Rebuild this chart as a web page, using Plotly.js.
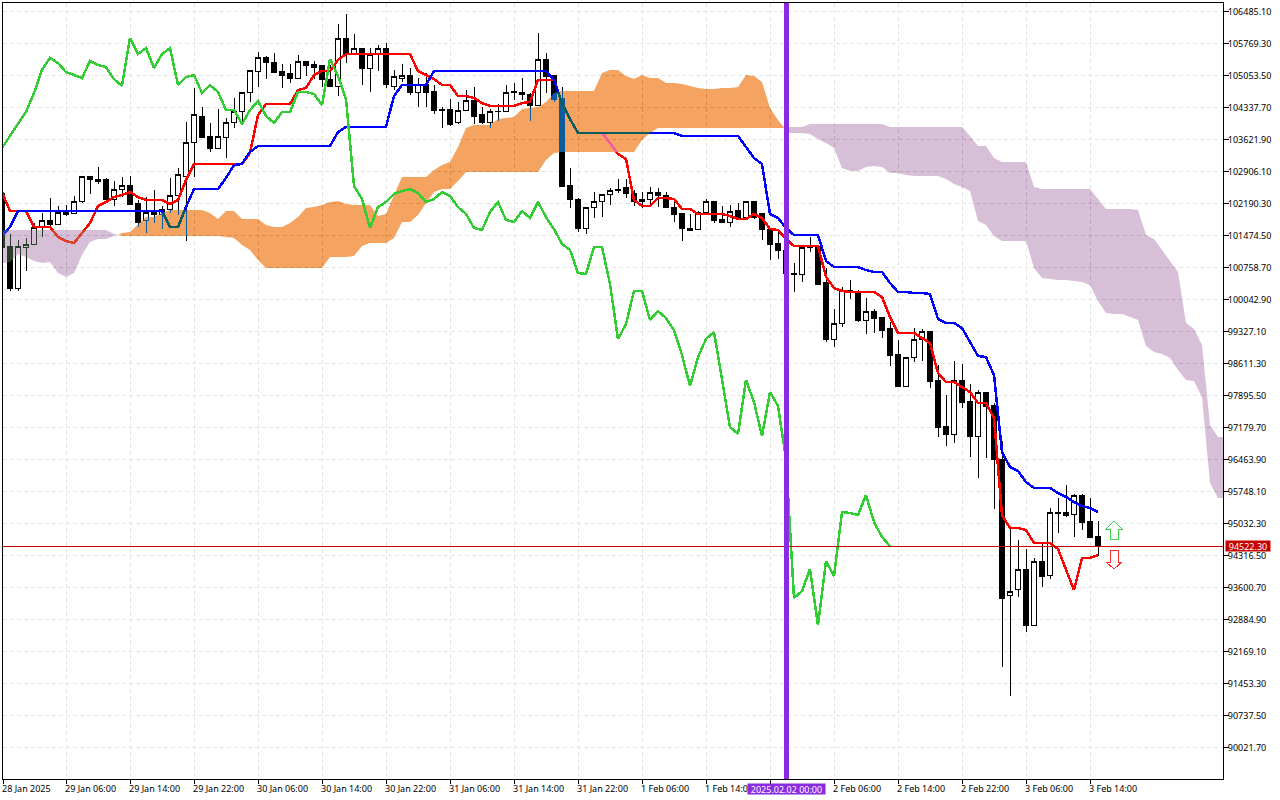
<!DOCTYPE html>
<html><head><meta charset="utf-8">
<script src="https://cdn.plot.ly/plotly-3.0.1.min.js"></script>
<style>html,body{margin:0;padding:0;background:#fff}#chart{width:1280px;height:800px}
.js-line{shape-rendering:crispEdges}
.boxlayer path{shape-rendering:crispEdges}
.shapelayer path{shape-rendering:crispEdges}</style>
</head><body><div id="chart"></div>
<script>
const opens=[102421,101235,100274,101213,101280,101660,101817,101727,101996,101973,
102220,102779,102734,102712,102286,102510,102600,102197,101795,101996,
101929,102063,102376,102779,103561,104143,103696,103427,103673,103987,
104233,104658,105150,105441,105351,105150,105083,104993,105373,105306,
105262,104971,104814,105888,105530,105664,105217,105530,105664,104814,
104993,105060,104658,104837,104702,104300,104300,103987,104277,104479,
104166,103987,104255,104233,104702,104680,104635,104389,105418,105060,
104546,102600,102286,101638,102107,102220,102398,102466,102533,102421,
102220,102286,102443,102376,102107,101973,101638,101615,101996,102242,
101839,101772,102040,101862,102220,101973,101615,101302,101146,100631,
100609,101235,101235,100430,99155,99491,100206,100184,99580,99781,
99647,99379,98819,98103,98752,99155,99312,98238,97209,97030,
98238,97768,96985,97969,97678,96471,93428,93563,94010,92757,
94189,93876,95285,95285,95240,95665,95084,94748];
const highs=[102488,101504,101369,101414,101750,101973,102309,102130,102152,102354,
102801,102779,103002,102756,102689,102779,102801,102264,102331,102488,
102130,102756,102980,104009,104770,104344,103987,104300,104098,104546,
104658,105172,105575,105485,105552,105306,105306,105508,105373,105373,
105262,105284,106201,106425,105977,105664,105664,105731,105776,105172,
105306,105217,104993,105105,104837,104344,104523,104456,104725,104792,
104344,104300,104412,104837,104881,104993,104658,106000,105552,105060,
104792,102980,102309,102107,102443,102398,102533,102734,102734,102488,
102443,102555,102533,102443,102264,101973,101951,102018,102286,102242,
102130,102152,102197,102220,102242,101973,101615,101571,101146,100855,
101213,101436,101235,100743,99826,100318,100475,100251,100072,99826,
99647,99535,99132,98752,99401,99379,99312,98573,97902,98662,
98595,98148,98014,97969,97723,96873,94927,94659,94457,94256,
94592,95374,95598,95889,95688,95688,95598,95084];
const lows=[101146,100229,100229,100676,101258,101436,101660,101705,101906,101951,
102197,102398,102622,102264,102130,102331,102152,101660,101526,101750,
101615,101973,101929,101347,102779,103673,103338,103405,103204,103875,
103964,104456,104792,104971,105105,104770,104881,104993,105038,104971,
104792,104792,104591,105329,105530,104837,104680,105150,104770,104725,
104904,104613,104344,104344,104188,103875,103920,103964,104277,103964,
103964,103875,104031,104233,104501,104501,104031,104389,104658,104456,
102555,102085,101548,101504,101862,101884,102152,102421,102309,102130,
102085,102174,102107,102085,101772,101347,101571,101615,101973,101750,
101750,101660,101839,101839,101839,101369,100922,100944,100631,100206,
100430,101101,100363,99087,98976,99423,100049,99535,99267,99289,
99177,98551,98081,98103,98640,98662,98059,96963,96761,96828,
97611,96515,96045,96493,95352,91818,91169,93383,92601,92735,
93607,93786,94815,95173,94726,94882,94726,94301];
const closes=[101213,100274,101235,101258,101660,101817,101727,101996,101951,102220,
102779,102734,102689,102286,102510,102600,102174,101772,101996,101929,
102063,102376,102824,103561,104166,103673,103427,103696,103987,104233,
104658,105172,105441,105329,105127,105060,104993,105373,105284,105239,
104971,104814,105888,105530,105664,105217,105530,105664,104837,105016,
105060,104658,104837,104680,104277,104277,103964,104277,104479,104143,
103987,104233,104233,104680,104680,104635,104389,105418,105038,104523,
102577,102286,101638,102107,102220,102398,102466,102510,102421,102220,
102286,102443,102354,102107,101951,101638,101593,101996,102220,101817,
101772,102018,101862,102220,101884,101615,101280,101146,100631,100609,
101213,101213,100385,99155,99491,100229,100229,99580,99781,99625,
99356,98797,98103,98752,99155,99312,98215,97186,97030,98238,
97745,96985,97969,97656,96471,93361,93518,94010,92757,94189,
93853,95285,95263,95218,95665,95061,94726,94522.3];
const tenkan=[102443,102018,102018,102018,101660,101660,101660,101436,101347,101302,
101526,101750,102130,102220,102331,102376,102443,102331,102264,102264,
102264,102174,102264,102712,103070,103070,103070,103070,103070,103070,
103070,103316,104166,104412,104412,104412,104412,104725,104770,105060,
105150,105150,105396,105530,105530,105530,105530,105530,105530,105530,
105530,105530,105150,105060,104971,104837,104837,104591,104591,104546,
104434,104367,104367,104367,104367,104434,104456,104948,104948,104948,
104434,104076,103763,103763,103763,103763,103539,103293,103181,102264,
102130,102130,102309,102309,102286,102063,102063,101951,101951,101951,
101951,101906,101839,101839,101951,101862,101615,101593,101392,101235,
101235,101235,101235,100542,100296,100229,100206,100206,100206,100206,
100094,99647,99289,99289,99289,99177,99065,98394,98193,98193,
98081,97969,97723,97723,97388,95218,94927,94927,94882,94592,
94592,94592,94457,93988,93540,94256,94256,94323];
const kijun=[101459,101660,102018,102018,102018,102018,102018,102018,102018,102018,
102018,102018,102018,102018,102018,102018,102018,102018,102018,102018,
102018,101660,101660,102107,102510,102510,102510,102510,102756,103047,
103070,103338,103472,103472,103472,103472,103472,103472,103472,103472,
103472,103472,103785,103897,103897,103897,103897,103897,103897,104591,
104837,104837,104837,104837,105150,105150,105150,105150,105150,105150,
105150,105150,105150,105150,105150,105150,105150,105150,105150,104948,
104434,104076,103763,103763,103763,103763,103763,103763,103763,103763,
103763,103763,103763,103763,103763,103696,103696,103696,103696,103696,
103696,103696,103696,103450,103204,103070,101951,101862,101638,101481,
101481,101481,101481,100900,100766,100766,100766,100766,100698,100653,
100653,100408,100206,100206,100184,100184,100161,99602,99513,99513,
99401,99087,98775,98752,98349,96627,96291,96202,95956,95822,
95822,95822,95710,95620,95508,95419,95374,95285];
const chikou=[103427,103696,103987,104233,104658,105172,105441,105329,105127,105060,
104993,105373,105284,105239,104971,104814,105888,105530,105664,105217,
105530,105664,104837,105016,105060,104658,104837,104680,104277,104277,
103964,104277,104479,104143,103987,104233,104233,104680,104680,104635,
104389,105418,105038,104523,102577,102286,101638,102107,102220,102398,
102466,102510,102421,102220,102286,102443,102354,102107,101951,101638,
101593,101996,102220,101817,101772,102018,101862,102220,101884,101615,
101280,101146,100631,100609,101213,101213,100385,99155,99491,100229,
100229,99580,99781,99625,99356,98797,98103,98752,99155,99312,
98215,97186,97030,98238,97745,96985,97969,97656,96471,93361,
93518,94010,92757,94189,93853,95285,95263,95218,95665,95061,
94726,94522];

// Cloud: bars 0..14 then the crossing
const cloudA_top=[101593,101593,101593,101593,101593,101593,101593,101593,101593,101593,101593,101593,101593,101593,101504,101481];
const cloudA_bottom=[100855,100877,101056,100989,100900,100855,100877,100631,100542,100631,101034,101325,101392,101392,101459,101481];
// Cloud: crossing, bars 15..97, crossing
const cloudB_top=[101481,101526,101548,101727,101884,101884,101973,102040,102040,102040,102040,102040,101973,101839,102018,102018,
101839,101839,101839,101705,101660,101660,101750,101884,102085,102107,102152,102220,102242,102174,102152,102152,102152,101906,101951,
102376,102779,102779,102779,102779,102935,103047,103114,103450,103875,103942,103942,103942,104076,104098,104121,104300,104322,104344,
104456,104658,104702,104702,104702,104702,104702,105105,105172,105172,105038,104971,105060,104993,104993,104881,104881,104859,104814,
104770,104747,104747,104770,104770,104792,105060,105038,104904,104322,104054,103875];
const cloudB_bottom=[101481,101459,101459,101459,101459,101459,101459,101459,101459,101459,101459,101459,101459,101459,101436,101414,
101258,101146,100922,100743,100743,100743,100743,100743,100743,100743,100743,100989,100989,100989,101012,101235,101302,101302,101302,
101414,101772,101772,101929,102197,102443,102510,102510,102689,102890,102890,102890,102890,102890,102890,102890,102890,102890,102890,
103159,103316,103338,103338,103338,103338,103338,103338,103338,103338,103338,103338,103606,103763,103875,103875,103875,103875,103875,
103875,103875,103875,103875,103875,103875,103875,103875,103875,103875,103875,103875];
// Cloud: crossing, bars 98..152, right edge
const cloudC_top=[103875,103897,103897,103897,103964,103964,103964,103964,103964,103964,103964,103964,103964,103964,103897,103897,103897,103897,103897,103897,103897,103897,103897,103897,
103696,103472,103472,103204,103114,103114,103114,103114,102555,102510,102510,102510,102510,102510,102510,102510,102286,102063,102063,102063,102063,102040,
101481,101392,101146,100922,100653,99513,99379,99020,97231,96963,96963];
const cloudC_bottom=[103875,103763,103763,103763,103741,103629,103539,103427,102980,102913,102913,103002,103025,103002,102868,102868,102824,102801,102801,102801,102801,102734,
102622,102555,102466,101795,101705,101459,101347,101347,101347,101347,100743,100520,100497,100475,100475,100452,100430,100363,100005,99736,99714,99714,99647,99580,
98998,98864,98819,98730,98461,98238,98215,97857,95934,95598,95598];

const yTicks=[106485.10,105769.30,105053.50,104337.70,103621.90,102906.10,102190.30,101474.50,100758.70,100042.90,99327.10,98611.30,97895.50,97179.70,96463.90,95748.10,95032.30,94316.50,93600.70,92884.90,92169.10,91453.30,90737.50,90021.70];
const xTickBars=[0.125,8,16,24,32,40,48,56,64,72,80,88,96,104,112,120,128,136];
const xTickLabels=["28 Jan 2025","29 Jan 06:00","29 Jan 14:00","29 Jan 22:00","30 Jan 06:00","30 Jan 14:00","30 Jan 22:00","31 Jan 06:00","31 Jan 14:00","31 Jan 22:00","1 Feb 06:00","1 Feb 14:00","","2 Feb 06:00","2 Feb 14:00","2 Feb 22:00","3 Feb 06:00","3 Feb 14:00"];
const xGridBars=[4,12,20,28,36,44,52,60,68,76,84,92,100,108,116,124,132,140,144,148,152];
const lastPrice=94522.30, markerBar=98, arrowBar=139, arrowUpPrice=94882, arrowDownPrice=94223;

const t0=Date.UTC(2025,0,28,22);
const bar=i=>new Date(t0+i*3600000).toISOString().slice(0,19).replace('T',' ');
const idx=a=>a.map((_,k)=>bar(k));
const font='"Noto Sans", sans-serif';

function cloudIdx(arr,first,last,base){
  return arr.map((_,k)=>{
    if(k===arr.length-1) return bar(last);
    if(first!==null && k===0) return bar(first);
    return bar(base+k);
  });
}
function cloud(top,bottom,color,first,last,base){
  const common={type:'scatter',mode:'lines',line:{width:0},hoverinfo:'skip',cliponaxis:false,showlegend:false};
  return [
    {...common,x:cloudIdx(bottom,first,last,base),y:bottom},
    {...common,x:cloudIdx(top,first,last,base),y:top,fill:'tonexty',fillcolor:color}
  ];
}
const lineTrace=(y,c)=>({type:'scatter',mode:'lines',x:idx(y),y:y,line:{color:c,width:2.5},hoverinfo:'skip',cliponaxis:false,showlegend:false});

const traces=[
 {type:'candlestick',x:idx(closes),open:opens,high:highs,low:lows,close:closes,whiskerwidth:0,
  increasing:{line:{color:'#000',width:1},fillcolor:'#fff'},
  decreasing:{line:{color:'#000',width:1},fillcolor:'#000'},hoverinfo:'skip',showlegend:false},
 lineTrace(tenkan,'#ff0000'),
 lineTrace(kijun,'#0000ff'),
 ...cloud(cloudA_top,cloudA_bottom,'#d8bfd8',null,14.5,0),
 ...cloud(cloudB_top,cloudB_bottom,'#f4a460',14.5,97.8,14),
 ...cloud(cloudC_top,cloudC_bottom,'#d8bfd8',97.8,152.625,97),
 lineTrace(chikou,'#32cd32')
];

const grid={gridcolor:'#e4e4e4',gridwidth:1,griddash:'4px,3px'};
const tfont={family:font,size:9,color:'#000'};
const arrowShape=(p,y,c)=>({type:'path',xref:'x',yref:'y',xsizemode:'pixel',ysizemode:'pixel',xanchor:bar(arrowBar),yanchor:y,path:p,line:{color:c,width:1},fillcolor:'#fff',layer:'above'});
const layout={
 width:1280,height:800,margin:{l:3,r:57,t:3,b:21,pad:0},paper_bgcolor:'#fff',plot_bgcolor:'#fff',showlegend:false,boxgap:0.2,
 xaxis:{type:'date',range:[bar(0.125),bar(152.625)],rangeslider:{visible:false},showline:true,mirror:true,linecolor:'#000',linewidth:1,
   tickmode:'array',tickvals:xTickBars.map(bar),ticktext:xTickLabels,ticks:'outside',ticklen:4,tickcolor:'#000',tickwidth:1,
   ticklabelposition:'outside right',ticklabelshift:-2,ticklabelstandoff:1,tickfont:tfont,showgrid:true,...grid,zeroline:false,
   minor:{tickmode:'array',tickvals:xGridBars.map(bar),ticks:'',showgrid:true,...grid}},
 yaxis:{side:'right',range:[89313,106671],showline:true,mirror:true,linecolor:'#000',linewidth:1,
   tickmode:'array',tickvals:yTicks,ticktext:yTicks.map(v=>v.toFixed(2)),ticks:'outside',ticklen:5,tickcolor:'#000',tickwidth:1,
   ticklabelstandoff:-3,ticklabelshift:1,tickfont:tfont,showgrid:true,...grid,zeroline:false},
 shapes:[
  {type:'line',xref:'paper',x0:0,x1:1,yref:'y',y0:lastPrice,y1:lastPrice,line:{color:'#c80000',width:1},layer:'above'},
  {type:'line',xref:'x',x0:bar(markerBar),x1:bar(markerBar),yref:'paper',y0:0,y1:1,line:{color:'#8a2be2',width:5},layer:'above'},
  arrowShape('M0,9 L8,1 L4,1 L4,-9 L-4,-9 L-4,1 L-8,1 Z',arrowUpPrice,'#3ccf4e'),
  arrowShape('M0,-9.5 L8,-2.5 L4,-2.5 L4,9.5 L-4,9.5 L-4,-2.5 L-8,-2.5 Z',arrowDownPrice,'#ff2a2a')
 ],
 annotations:[
  {text:'94522.30',xref:'paper',x:1,xanchor:'left',xshift:2,yref:'y',y:lastPrice,yanchor:'middle',showarrow:false,bgcolor:'#c80000',font:{family:font,size:9,color:'#fff'},width:44,height:10,borderpad:0},
  {text:'2025.02.02 00:00',xref:'x',x:bar(markerBar),xanchor:'center',yref:'paper',y:0,yanchor:'middle',yshift:-10,showarrow:false,bgcolor:'#8a2be2',font:{family:font,size:9,color:'#fff'},width:77,height:10,borderpad:0}
 ]
};
Plotly.newPlot('chart',traces,layout,{staticPlot:true,displayModeBar:false}).then(gd=>{
 // The terminal's cloud inverts what lies beneath it: reproduce with a difference blend.
 // The plot group forms its own stacking context, so give it the white plot area and grid as a backdrop.
 const NS='http://www.w3.org/2000/svg';
 const plot=gd.querySelector('.scatterlayer').parentNode;
 const m=layout.margin, w=layout.width-m.l-m.r, h=layout.height-m.t-m.b;
 const back=document.createElementNS(NS,'g');
 back.setAttribute('transform','translate('+(-m.l)+','+(-m.t)+')');
 const rect=document.createElementNS(NS,'rect');
 rect.setAttribute('x',m.l);rect.setAttribute('y',m.t);rect.setAttribute('width',w);rect.setAttribute('height',h);rect.setAttribute('fill','#fff');
 back.appendChild(rect);
 const gl=gd.querySelector('.gridlayer');
 if(gl) back.appendChild(gl.cloneNode(true));
 plot.insertBefore(back,plot.firstChild);
 const inv={'rgb(244, 164, 96)':'rgb(11, 91, 159)','rgb(216, 191, 216)':'rgb(39, 64, 39)'};
 gd.querySelectorAll('.js-fill').forEach(p=>{
   const f=p.style.fill;
   if(inv[f]){p.style.fill=inv[f];p.style.mixBlendMode='difference';}
 });
});
</script>
</body></html>
